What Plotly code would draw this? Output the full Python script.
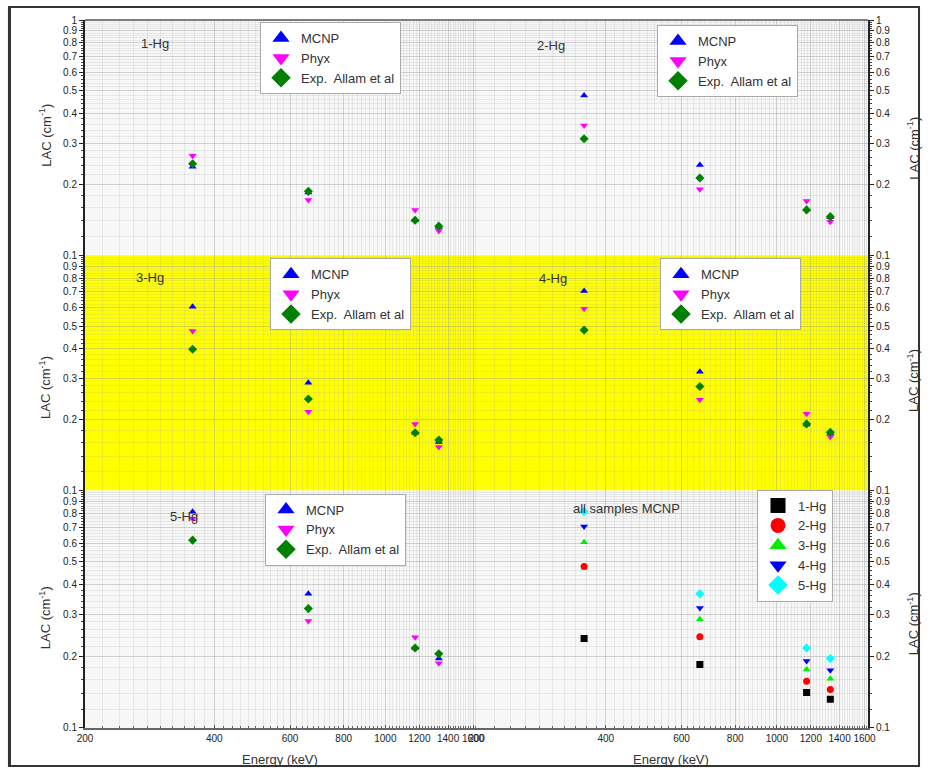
import plotly.graph_objects as go

# ---------------- data ----------------
energy_kev = [356, 662, 1173, 1332]

mcnp_1hg = [0.238, 0.185, 0.141, 0.132]
phyx_1hg = [0.265, 0.172, 0.156, 0.127]
exp_1hg = [0.245, 0.187, 0.141, 0.133]

mcnp_2hg = [0.478, 0.242, 0.157, 0.145]
phyx_2hg = [0.356, 0.191, 0.170, 0.139]
exp_2hg = [0.313, 0.213, 0.156, 0.146]

mcnp_3hg = [0.605, 0.287, 0.176, 0.161]
phyx_3hg = [0.477, 0.216, 0.192, 0.153]
exp_3hg = [0.399, 0.245, 0.176, 0.164]

mcnp_4hg = [0.705, 0.320, 0.191, 0.175]
phyx_4hg = [0.593, 0.243, 0.212, 0.169]
exp_4hg = [0.481, 0.277, 0.192, 0.177]

mcnp_5hg = [0.815, 0.367, 0.217, 0.196]
phyx_5hg = [0.760, 0.282, 0.241, 0.187]
exp_5hg = [0.618, 0.318, 0.217, 0.205]

sample_names = ["1-Hg", "2-Hg", "3-Hg", "4-Hg", "5-Hg"]
method_names = ["MCNP", "Phyx", "Exp.  Allam et al"]

y_tick_vals = [0.1, 0.2, 0.3, 0.4, 0.5, 0.6, 0.7, 0.8, 0.9, 1]
y_tick_text = ["0.1", "0.2", "0.3", "0.4", "0.5", "0.6", "0.7", "0.8", "0.9", "1"]
x_tick_vals = [200, 400, 600, 800, 1000, 1200, 1400, 1600]
x_tick_text = ["200", "400", "600", "800", "1000", "1200", "1400", "1600"]

# ---------------- styling ----------------
W, H = 928, 773
SX, SY = 912 / 928, 757 / 773
FONT = "Arial, Liberation Sans, sans-serif"


def px_x(p):
    return ((p - 8) / SX) / W


def px_y(p):
    return 1 - ((p - 8) / SY) / H


col_dom = [[px_x(85), px_x(476.5)], [px_x(476.5), px_x(868)]]
row_px = [(22, 256), (256, 490), (490, 726)]
row_dom = [[px_y(b), px_y(t)] for (t, b) in row_px]

method_styles = [
    dict(symbol="triangle-up", color="#0000ff"),
    dict(symbol="triangle-down", color="#ff00ff"),
    dict(symbol="diamond", color="#008000"),
]
sample_styles = [
    dict(symbol="square", color="#000000"),
    dict(symbol="circle", color="#ff0000"),
    dict(symbol="triangle-up", color="#00ee00"),
    dict(symbol="triangle-down", color="#0000ff"),
    dict(symbol="diamond", color="#00ffff"),
]

sample_data = [
    (mcnp_1hg, phyx_1hg, exp_1hg),
    (mcnp_2hg, phyx_2hg, exp_2hg),
    (mcnp_3hg, phyx_3hg, exp_3hg),
    (mcnp_4hg, phyx_4hg, exp_4hg),
    (mcnp_5hg, phyx_5hg, exp_5hg),
]

fig = go.Figure()


def ax_names(i):
    n = "" if i == 0 else str(i + 1)
    return "x" + n, "y" + n


# legend positions (left, top) in reference px
legend_pos = [(260, 24), (657, 27), (270, 259), (660, 259), (265, 493), (757, 489)]

for i in range(5):
    xa, ya = ax_names(i)
    leg = "legend" if i == 0 else "legend%d" % (i + 1)
    for vals, name, st in zip(sample_data[i], method_names, method_styles):
        fig.add_trace(go.Scatter(
            x=energy_kev, y=vals, mode="markers", xaxis=xa, yaxis=ya,
            marker=dict(symbol=st["symbol"], color=st["color"], size=7, line=dict(width=0)),
            name=name, showlegend=False, hoverinfo="x+y"))
    for name, st in zip(method_names, method_styles):
        fig.add_trace(go.Scatter(
            x=[None], y=[None], mode="markers", xaxis=xa, yaxis=ya,
            marker=dict(symbol=st["symbol"], color=st["color"], size=15, line=dict(width=0)),
            name=name, legend=leg, showlegend=True))

# all samples MCNP panel
xa, ya = ax_names(5)
for k in range(5):
    st = sample_styles[k]
    fig.add_trace(go.Scatter(
        x=energy_kev, y=sample_data[k][0], mode="markers", xaxis=xa, yaxis=ya,
        marker=dict(symbol=st["symbol"], color=st["color"], size=7, line=dict(width=0)),
        name=sample_names[k], showlegend=False))
for k in range(5):
    st = sample_styles[k]
    fig.add_trace(go.Scatter(
        x=[None], y=[None], mode="markers", xaxis=xa, yaxis=ya,
        marker=dict(symbol=st["symbol"], color=st["color"], size=15, line=dict(width=0)),
        name=sample_names[k], legend="legend6", showlegend=True))

x_minor = [v for v in range(220, 1660, 20) if v % 200 != 0]
y_minor = [round(0.1 + 0.02 * k, 3) for k in range(1, 45)]
y_minor = [v for v in y_minor if abs(v * 10 - round(v * 10)) > 1e-6]

layout = dict(
    width=W, height=H, autosize=False,
    margin=dict(l=0, r=0, t=0, b=0),
    paper_bgcolor="white", plot_bgcolor="rgba(0,0,0,0)",
    font=dict(family=FONT, color="#333"),
    showlegend=True,
)

for i in range(6):
    r, c = i // 2, i % 2
    n = "" if i == 0 else str(i + 1)
    bottom = (r == 2)
    layout["xaxis" + n] = dict(
        type="log", range=[2.30103, 3.2122], domain=col_dom[c],
        anchor="y" + n,
        tickmode="array", tickvals=x_tick_vals, ticktext=x_tick_text,
        tickangle=0,
        showticklabels=bottom, ticks="inside" if bottom else "", ticklen=3,
        tickcolor="#555",
        tickfont=dict(size=10, color="#222", family=FONT),
        showline=bottom, linecolor="#666", linewidth=1.5,
        showgrid=True, gridcolor="rgba(150,150,150,0.4)", gridwidth=1,
        zeroline=False,
        minor=dict(tickmode="array", tickvals=x_minor, showgrid=True,
                   gridcolor="rgba(170,170,170,0.2)",
                   ticks="inside" if bottom else "", ticklen=2, tickcolor="#666"),
    )
    tv = y_tick_vals if r == 0 else y_tick_vals[:-1]
    tt = y_tick_text if r == 0 else y_tick_text[:-1]
    layout["yaxis" + n] = dict(
        type="log", range=[-1, 0], domain=row_dom[r],
        anchor="x" + n, side="left" if c == 0 else "right",
        tickmode="array", tickvals=tv, ticktext=tt,
        ticks="outside", ticklen=4, tickcolor="#222",
        tickfont=dict(size=10, color="#222", family=FONT),
        showline=True, linecolor="#222", linewidth=2,
        showgrid=True, gridcolor="rgba(150,150,150,0.4)", gridwidth=1,
        zeroline=False,
        minor=dict(tickmode="array", tickvals=y_minor, showgrid=True,
                   gridcolor="rgba(170,170,170,0.2)",
                   ticks="outside", ticklen=2, tickcolor="#444"),
    )

for i, (lx, ly) in enumerate(legend_pos):
    key = "legend" if i == 0 else "legend%d" % (i + 1)
    layout[key] = dict(
        x=px_x(lx), y=px_y(ly), xanchor="left", yanchor="top",
        bgcolor="white", bordercolor="#aaaaaa", borderwidth=1,
        font=dict(size=13, color="#333", family=FONT),
        itemsizing="trace", tracegroupgap=0,
    )

fig.update_layout(**layout)

# backgrounds
shapes = []
for r, (t, b) in enumerate(row_px):
    shapes.append(dict(type="rect", xref="paper", yref="paper",
                       x0=px_x(85), x1=px_x(868), y0=px_y(b), y1=px_y(t),
                       fillcolor="#ffff00" if r == 1 else "#f7f7f7",
                       line=dict(width=0), layer="below"))
shapes.append(dict(type="line", xref="paper", yref="paper",
                   x0=px_x(85), x1=px_x(868), y0=px_y(22), y1=px_y(22),
                   line=dict(color="#555", width=1.5)))
# outer frame (at the figure's edges)
shapes.append(dict(type="rect", xref="paper", yref="paper",
                   x0=1 / W, x1=1 - 1 / W, y0=1 / H, y1=1 - 1 / H,
                   line=dict(color="#333", width=2)))
shapes.append(dict(type="line", xref="paper", yref="paper",
                   x0=1.5 / W, x1=1.5 / W, y0=0, y1=1,
                   line=dict(color="#333", width=3)))
fig.update_layout(shapes=shapes)

ann = []
labels = [("1-Hg", 155, 45), ("2-Hg", 551, 47), ("3-Hg", 150, 278),
          ("4-Hg", 553, 279), ("5-Hg", 184, 516), ("all samples MCNP", 626, 508)]
for text, x, y in labels:
    ann.append(dict(text=text, x=px_x(x), y=px_y(y), xref="paper", yref="paper",
                    showarrow=False, xanchor="center", yanchor="middle",
                    font=dict(size=13, color="#333", family=FONT)))
lac = "LAC (cm<sup>-1</sup>)"
for x, y in [(45, 137), (45, 388), (45, 617), (913, 150), (913, 381), (913, 623)]:
    ann.append(dict(text=lac, x=px_x(x), y=px_y(y), xref="paper", yref="paper",
                    showarrow=False, textangle=-90, xanchor="center", yanchor="middle",
                    font=dict(size=13, color="#333", family=FONT)))
for x in [280, 671]:
    ann.append(dict(text="Energy (keV)", x=px_x(x), y=px_y(758), xref="paper", yref="paper",
                    showarrow=False, xanchor="center", yanchor="middle",
                    font=dict(size=13, color="#333", family=FONT)))
fig.update_layout(annotations=ann)

fig.write_html("out.html", config={"displayModeBar": False},
               post_script="document.body.style.margin='0';document.body.style.overflow='hidden';")
